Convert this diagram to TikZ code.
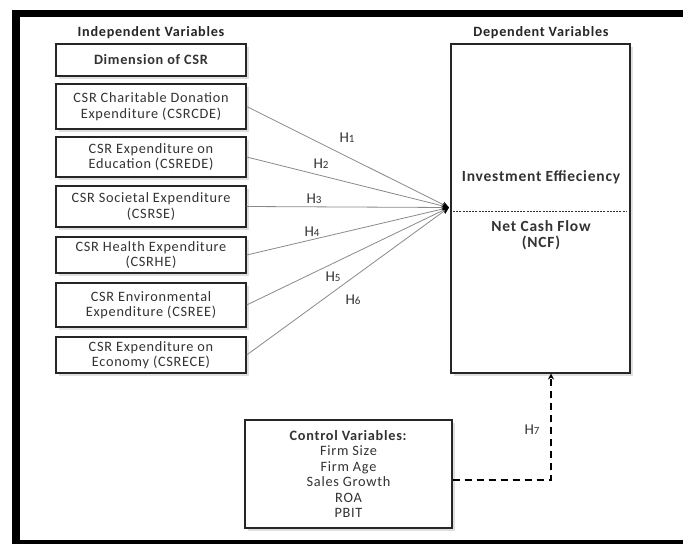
\documentclass[tikz,border=0pt]{standalone}
\usepackage{fontspec}
\setmainfont{Carlito}[LetterSpace=5]
\usetikzlibrary{arrows.meta,shadows,calc}
\definecolor{txt}{HTML}{333333}
\definecolor{ln}{HTML}{8A8A8A}
\begin{document}
\begin{tikzpicture}[x=1pt,y=-1pt,
  hdr/.style={font=\bfseries\fontsize{14.2}{16}\selectfont, text=black!85},
  ibox/.style={draw=black!85, line width=1.3pt, fill=white, align=center,
    minimum width=190pt, inner sep=0pt, text=txt,
    font=\fontsize{14.3}{15.5}\selectfont,
    drop shadow={opacity=0.25, shadow xshift=3pt, shadow yshift=-3pt}},
  hyp/.style={draw=ln, line width=0.8pt, -{Stealth[color=black,length=7pt,width=6pt]}},
  hl/.style={text=txt, font=\fontsize{15}{16}\selectfont, inner sep=1pt},
  dtxt/.style={font=\bfseries\fontsize{15.5}{16}\selectfont, text=txt, align=center},
]
\useasboundingbox (0,0) rectangle (683,544);
\fill[white] (0,0) rectangle (683,544);
% outer frame
\fill[black] (12,10) rectangle (683,17);
\fill[black] (12,10) rectangle (20,544);
\fill[black] (12,540) rectangle (683,544);

\node[hdr] (hi) at (151,33) {Independent Variables};
\node[hdr] (hd) at (541,33) {Dependent Variables};

\node[ibox, minimum height=32pt, font=\bfseries\fontsize{14.3}{15.5}\selectfont] (b1) at (151,60) {Dimension of CSR};
\node[ibox, minimum height=45pt] (b2) at (151,106.5) {CSR Charitable Donation\\Expenditure (CSRCDE)};
\node[ibox, minimum height=40pt] (b3) at (151,157) {CSR Expenditure on\\Education (CSREDE)};
\node[ibox, minimum height=41pt] (b4) at (151,206.5) {CSR Societal Expenditure\\(CSRSE)};
\node[ibox, minimum height=36pt] (b5) at (151,255) {CSR Health Expenditure\\(CSRHE)};
\node[ibox, minimum height=44pt] (b6) at (151,305) {CSR Environmental\\Expenditure (CSREE)};
\node[ibox, minimum height=36pt] (b7) at (151,355) {CSR Expenditure on\\Economy (CSRECE)};

\node[ibox, minimum width=179pt, minimum height=329pt] (dep) at (540.5,208.5) {};
\node[dtxt] (ie) at (541,177) {Investment Effieciency};
\coordinate (dl) at (453,211);
\coordinate (dr) at (627,211);
\draw[dash pattern=on 2pt off 1.2pt, line width=0.7pt, black!80] (dl) -- (dr);
\node[dtxt] (ncf) at (541,235) {Net Cash Flow\\(NCF)};

\node[ibox, minimum width=207pt, minimum height=108pt, font=\fontsize{14.3}{15.4}\selectfont] (ctrl) at (348.5,474)
  {\textbf{Control Variables:}\\Firm Size\\Firm Age\\Sales Growth\\ROA\\PBIT};

\coordinate (conv) at (449,207.5);
\draw[hyp] (b2.east) -- (conv);
\draw[hyp] (b3.east) -- (conv);
\draw[hyp] (b4.east) -- (conv);
\draw[hyp] (b5.east) -- (conv);
\draw[hyp] (b6.east) -- (conv);
\draw[hyp] (b7.east) -- (conv);

\node[hl] (h1) at (347,138) {H{\fontsize{11}{11}\selectfont 1}};
\node[hl] (h2) at (321,164) {H{\fontsize{11}{11}\selectfont 2}};
\node[hl] (h3) at (314,199) {H{\fontsize{11}{11}\selectfont 3}};
\node[hl] (h4) at (312,232) {H{\fontsize{11}{11}\selectfont 4}};
\node[hl] (h5) at (333,277) {H{\fontsize{11}{11}\selectfont 5}};
\node[hl] (h6) at (353,300) {H{\fontsize{11}{11}\selectfont 6}};

\coordinate (c7) at (551,373.5);
\draw[line width=1.6pt, dash pattern=on 7pt off 5pt, -{Stealth[length=6pt,width=6pt]}]
  ([yshift=-6pt]ctrl.east) -| (c7);
\node[hl] (h7) at (532,430) {H{\fontsize{11}{11}\selectfont 7}};
\end{tikzpicture}
\end{document}
